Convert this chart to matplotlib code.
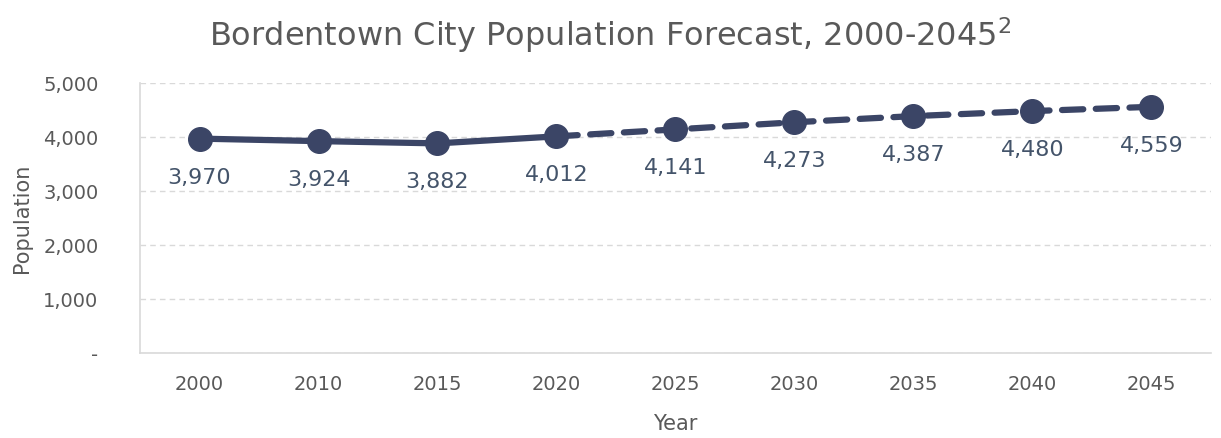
import matplotlib.pyplot as plt
from matplotlib.ticker import FuncFormatter

# data
years = ['2000', '2010', '2015', '2020', '2025', '2030', '2035', '2040', '2045']
population = [3970, 3924, 3882, 4012, 4141, 4273, 4387, 4480, 4559]
n_actual = 4  # 2000-2020 observed, rest forecast

navy = '#3b4566'
label_col = '#44546a'
grey = '#595959'

plt.rcParams['font.family'] = ['DejaVu Sans']

fig = plt.figure(figsize=(12.21, 4.38), dpi=100)
ax = fig.add_axes([0.1147, 0.194, 0.877, 0.6165])

x = list(range(len(years)))

# solid actual line, dashed forecast line
ax.plot(x[:n_actual], population[:n_actual], color=navy, lw=4.5,
        solid_capstyle='round', zorder=3)
ax.plot(x[n_actual - 1:], population[n_actual - 1:], color=navy, lw=4.5,
        ls=(0, (3.4, 2.0)), dash_capstyle='round', zorder=3)
ax.plot(x, population, 'o', color=navy, ms=17, zorder=4)

for xi, v in zip(x, population):
    ax.annotate(f'{v:,}', (xi, v), xytext=(0, -28), textcoords='offset points',
                ha='center', va='center', fontsize=16, color=label_col)

ax.set_xlim(-0.5, len(years) - 0.5)
ax.set_ylim(0, 5000)
ax.set_xticks(x)
ax.set_xticklabels(years)
ax.set_yticks(range(0, 5001, 1000))
ax.yaxis.set_major_formatter(FuncFormatter(lambda v, p: '-' if v == 0 else f'{int(v):,}'))

ax.grid(axis='y', color='#d9d9d9', ls=(0, (4, 3)), lw=1)
ax.set_axisbelow(True)
for s in ['top', 'right']:
    ax.spines[s].set_visible(False)
for s in ['left', 'bottom']:
    ax.spines[s].set_color('#d9d9d9')
    ax.spines[s].set_linewidth(1.2)
ax.tick_params(length=0, labelsize=14, colors=grey, pad=16)
ax.tick_params(axis='y', pad=30)

ax.set_xlabel('Year', fontsize=15, color=grey, labelpad=14)
ax.set_ylabel('Population', fontsize=15, color=grey, labelpad=8)

fig.suptitle('Bordentown City Population Forecast, 2000-2045$^{2}$', x=0.5, y=0.965,
             fontsize=23, color=grey)

fig.savefig('out.png', dpi=100)
